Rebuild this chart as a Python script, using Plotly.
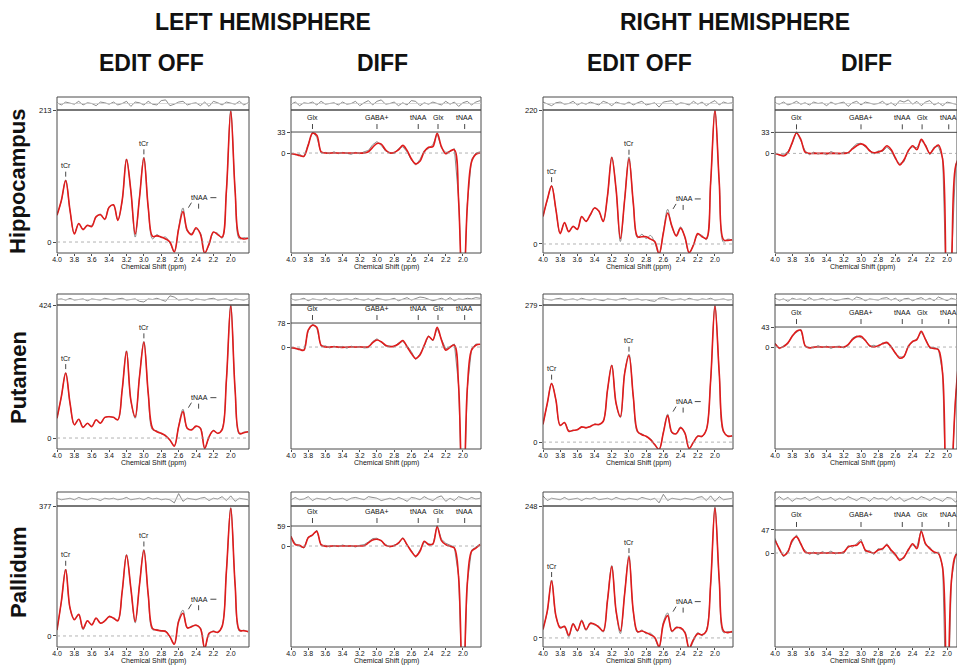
import plotly.graph_objects as go

W, H = 957, 666

# ---------------- data ----------------
PPM = [4.00, 3.95, 3.90, 3.85, 3.80, 3.75, 3.70, 3.65, 3.60, 3.55, 3.50, 3.45, 3.40, 3.35, 3.30,
       3.25, 3.20, 3.15, 3.10, 3.05, 3.00, 2.95, 2.90, 2.85, 2.80, 2.75, 2.70, 2.65, 2.60, 2.55,
       2.50, 2.45, 2.40, 2.35, 2.30, 2.25, 2.20, 2.15, 2.10, 2.05, 2.00, 1.95, 1.90, 1.85, 1.80]

X_TICKS = [4.0, 3.8, 3.6, 3.4, 3.2, 3.0, 2.8, 2.6, 2.4, 2.2, 2.0]
X_TICK_LABELS = ["4.0", "3.8", "3.6", "3.4", "3.2", "3.0", "2.8", "2.6", "2.4", "2.2", "2.0"]
X_TITLE = "Chemical Shift (ppm)"

HEMISPHERES = ["LEFT HEMISPHERE", "RIGHT HEMISPHERE"]
CONDITIONS = ["EDIT OFF", "DIFF", "EDIT OFF", "DIFF"]
REGIONS = ["Hippocampus", "Putamen", "Pallidum"]

OFF_PEAK_LABELS = ["tCr", "tCr"]
OFF_PEAK_PPM = [3.90, 3.00]
DIFF_PEAK_LABELS = ["Glx", "GABA+", "tNAA", "Glx", "tNAA"]
DIFF_PEAK_PPM = [3.75, 3.00, 2.52, 2.29, 1.98]

# y-axis max labels, row-major (LH off, LH diff, RH off, RH diff)
Y_MAX = [213, 33, 220, 33,
         424, 78, 279, 43,
         377, 59, 248, 47]

# ---- Hippocampus ----
LH_HIPPO_OFF_FIT = [43, 67, 99, 51, 13, 30, 20, 27, 25, 41, 44, 37, 56, 60, 35, 67, 133, 83, 13, 72, 135, 56, 9, 10, 8,
                    5, 0, -16, 21, 49, 19, 12, 23, 13, -18, -3, 16, 12, 8, 83, 211, 83, 8, 5, 6]
LH_HIPPO_OFF_DATA = [44, 66, 100, 50, 14, 29, 21, 26, 27, 40, 45, 36, 57, 59, 36, 66, 134, 82, 8, 73, 137, 55, 5, 12, 7,
                     8, -2, -15, 23, 55, 17, 14, 21, 15, -17, -5, 15, 14, 6, 82, 212, 84, 5, 7, 6]
LH_HIPPO_OFF_RES = [1, -2, 2, 0, -1, 3, -2, 1, 0, -3, 2, 1, -1, 2, -2, 0, 3, -4, 2, 1, -2, 3, -1, -2, 4,
                    5, -3, -1, 2, 3, -2, 0, 1, -3, 2, -4, 3, 1, -2, 2, 0, -1, 3, -2, 1]

LH_HIPPO_DIFF_FIT = [-1, -2, -4, -5, 12, 31, 28, 2, 0, 0, 0, 0, 0, 0, 0, 0, 0, 0, 2, 9, 15, 14, 5, 0, 1,
                     5, 12, 4, -9, -17, -13, 2, 9, 10, 31, 10, -1, 3, 5, -76, -260, -86, -14, -2, 0]
LH_HIPPO_DIFF_DATA = [0, -3, -2, -6, 14, 33, 25, 0, 1, -1, 2, -1, 1, 0, -2, 1, -1, 2, 4, 13, 18, 12, 3, 1, -1,
                      7, 10, 2, -11, -19, -10, 4, 7, 13, 30, 8, 1, 2, 7, -72, -255, -80, -10, 0, 2]
LH_HIPPO_DIFF_RES = [-1, 2, -3, 1, 0, 2, -2, 3, -1, 0, 1, -2, 2, -1, 0, 3, -3, 1, 4, -2, 3, 5, -1, 0, 2,
                     -3, 1, -2, 4, 3, -3, 1, -1, 2, 0, -2, 3, -1, 2, -4, 1, 3, -2, 2, 4]

RH_HIPPO_OFF_FIT = [45, 73, 95, 57, 17, 35, 20, 29, 24, 45, 37, 48, 59, 54, 37, 79, 142, 90, 9, 73, 140, 68, 12, 12, 12,
                    8, 4, -16, 18, 51, 29, 13, 26, 12, -14, -2, 17, 12, 9, 101, 220, 101, 7, 6, 7]
RH_HIPPO_OFF_DATA = [46, 72, 96, 56, 18, 34, 21, 28, 25, 44, 38, 47, 60, 53, 38, 78, 143, 89, 4, 74, 143, 66, 10, 16, 9,
                     14, 2, -17, 20, 57, 27, 15, 28, 10, -15, -1, 15, 14, 7, 100, 219, 103, 3, 8, 6]
RH_HIPPO_OFF_RES = [2, 0, -3, 1, 2, -1, 0, 3, -2, 1, -1, 2, 0, -2, 3, 1, -3, 2, 0, -1, 2, -2, 1, 3, -2,
                    0, 1, -5, 2, 3, 4, -2, 1, 0, -2, 3, -1, 2, -3, 1, 4, -2, 2, 0, 1]

RH_HIPPO_DIFF_FIT = [0, -2, -4, 1, 17, 32, 22, 2, 0, 0, 0, 0, 0, 0, 0, 0, 0, 1, 7, 12, 15, 12, 4, 1, 2,
                     5, 12, 6, -7, -18, -10, 4, 12, 6, 22, 12, 0, 8, 13, -10, -260, -180, -20, -5, 0]
RH_HIPPO_DIFF_DATA = [1, -3, -2, 3, 15, 34, 20, 4, -2, 2, -1, 1, -2, 3, 0, -1, 2, 0, 9, 15, 16, 10, 6, -1, 4,
                      3, 10, 4, -9, -16, -13, 6, 10, 9, 20, 14, -2, 10, 11, -8, -255, -175, -18, -3, 2]
RH_HIPPO_DIFF_RES = [1, -1, 2, -2, 0, 3, -1, 1, -2, 2, 0, 1, -3, 2, -1, 0, 2, -4, 1, 3, -2, 2, 1, -1, 0,
                     3, -2, 1, -3, 4, 2, 5, -1, 3, -3, 2, 4, -2, 1, -3, 2, 0, -1, 2, 1]

# ---- Putamen ----
LH_PUT_OFF_FIT = [63, 132, 207, 111, 42, 60, 34, 47, 36, 58, 47, 66, 68, 66, 58, 153, 276, 121, 68, 196, 305, 143, 31, 20, 15,
                  7, -6, -26, 36, 84, 31, 26, 38, 31, -33, 4, 23, 15, 26, 185, 422, 153, 15, 17, 20]
LH_PUT_OFF_DATA = [64, 131, 208, 110, 43, 59, 36, 46, 38, 57, 48, 65, 69, 65, 59, 152, 278, 120, 63, 198, 308, 141, 26, 23, 13,
                   9, -8, -24, 38, 92, 29, 28, 36, 33, -31, 2, 25, 14, 30, 184, 424, 155, 12, 19, 19]
LH_PUT_OFF_RES = [0, 1, -1, 2, -1, 0, 1, -2, 1, 0, -1, 2, 0, -1, 1, 2, -1, 0, 1, -3, -4, 1, 0, 2, -1,
                  -3, 6, 4, -1, 0, 1, -2, 1, 0, -1, 1, 2, -1, 0, 1, -2, 1, 0, -1, 1]

LH_PUT_DIFF_FIT = [-2, -4, -8, -10, 55, 71, 64, 6, 0, 0, 1, 0, -1, 0, 0, 0, 0, 0, 1, 14, 23, 17, 6, 1, 3,
                   10, 21, 1, -21, -37, -26, 6, 34, 23, 64, 23, -10, -1, 6, -129, -620, -140, -10, 6, 9]
LH_PUT_DIFF_DATA = [-1, -6, -5, -12, 52, 74, 62, 2, 4, -3, 3, -2, 2, -4, 3, -1, 2, -3, -2, 18, 27, 15, 3, 4, 0,
                    14, 18, 5, -15, -41, -22, 3, 37, 20, 60, 26, -6, 2, 10, -125, -615, -135, -6, 10, 8]
LH_PUT_DIFF_RES = [1, -1, 0, 2, -2, 1, 0, -1, 2, -1, 1, -2, 0, 1, -1, 2, 0, -1, 1, -2, 2, 1, -1, 0, 2,
                   -2, 1, 3, -1, 2, 4, 3, 1, -2, 0, 2, -1, 3, -2, 1, 0, 2, 1, 3, 2]

RH_PUT_OFF_FIT = [36, 79, 119, 86, 34, 40, 22, 24, 25, 31, 29, 32, 36, 36, 42, 106, 156, 79, 52, 140, 176, 93, 22, 15, 12,
                  5, -5, -15, 19, 54, 20, 17, 29, 19, -13, 0, 12, 12, 25, 126, 277, 140, 22, 12, 13]
RH_PUT_OFF_DATA = [37, 78, 120, 85, 35, 39, 24, 23, 26, 30, 30, 31, 37, 35, 43, 105, 157, 78, 50, 142, 179, 92, 20, 17, 11,
                   7, -6, -14, 21, 57, 18, 18, 31, 17, -12, -1, 13, 11, 26, 125, 278, 141, 20, 13, 12]
RH_PUT_OFF_RES = [1, 0, -1, 1, 2, -1, 0, 1, -1, 2, 0, -1, 1, 0, -2, 1, 0, -1, 1, 2, -1, 0, 1, -1, 0,
                  -2, -3, 2, 3, 1, -1, 0, 1, -1, 2, 0, -1, 1, 0, 2, -1, 0, 1, -1, 0]

RH_PUT_DIFF_FIT = [7, -2, 1, 9, 23, 34, 36, 3, -2, 0, 0, 0, 0, 0, 0, 0, 0, 5, 16, 22, 23, 14, 3, 0, 3,
                   7, 10, 0, -13, -24, -20, 1, 12, 16, 34, 16, 0, -3, -6, -60, -420, -300, -110, -20, 0]
RH_PUT_DIFF_DATA = [9, -4, 3, 7, 25, 31, 38, 1, 0, -2, 3, -1, 2, -3, 1, 2, -2, 3, 19, 24, 20, 16, 1, 4, 0,
                    9, 8, 3, -15, -21, -22, 4, 10, 18, 32, 18, -3, -1, -4, -56, -415, -295, -105, -16, 2]
RH_PUT_DIFF_RES = [2, -1, 1, -3, 2, 0, 1, -2, 3, -1, 0, 2, -1, 1, -2, 0, 1, 2, -1, 4, 2, -2, 1, 0, -1,
                   2, 3, -1, 2, -3, 1, 2, -2, 1, 3, -1, 2, -2, 4, 1, -2, 2, 0, 3, -1]

# ---- Pallidum ----
LH_PAL_OFF_FIT = [17, 100, 192, 81, 47, 63, 22, 44, 32, 52, 37, 44, 56, 52, 44, 129, 234, 139, 42, 149, 248, 120, 22, 17, 15,
                  13, -2, -24, 42, 66, 24, 27, 32, 22, -36, 8, 13, 11, 27, 188, 370, 149, 17, 15, 13]
LH_PAL_OFF_DATA = [20, 98, 194, 80, 49, 60, 18, 42, 34, 50, 39, 42, 58, 50, 46, 127, 236, 137, 38, 151, 251, 118, 18, 19, 13,
                   15, -4, -22, 46, 75, 22, 29, 30, 24, -34, 4, 15, 9, 30, 186, 372, 151, 14, 17, 11]
LH_PAL_OFF_RES = [1, -1, 0, 1, -1, 2, 0, -1, 1, 0, -2, 1, 0, 1, -1, 0, 2, -1, 0, 1, -1, 2, 0, 1, -1,
                  0, -1, -5, 7, -3, 1, 0, -1, 1, 2, -2, 1, 0, 3, -2, 4, -3, 1, 0, -1]

LH_PAL_DIFF_FIT = [29, 4, 2, -4, 24, 33, 43, 4, -1, 0, 0, 0, 0, 0, 0, 0, 0, 1, 9, 18, 20, 16, 2, -1, 1,
                   9, 22, 4, -16, -30, -16, 14, 4, 6, 57, 16, 4, -1, -6, -94, -500, -114, -16, -6, 4]
LH_PAL_DIFF_DATA = [27, 7, -1, -6, 27, 30, 47, 1, 2, -3, 2, -2, 3, -1, 1, -3, 2, 4, 12, 22, 23, 13, 5, -3, 3,
                    6, 25, 2, -13, -34, -13, 11, 7, 3, 60, 20, 8, 2, -3, -90, -495, -110, -12, -3, 6]
LH_PAL_DIFF_RES = [-1, 2, -1, 0, 3, -2, 1, 0, -1, 2, -1, 0, 1, -2, 1, 2, 0, -1, 3, 2, 1, -2, 0, 1, -1,
                   2, 0, -3, 2, 1, -1, 3, 0, -2, 2, 4, -3, 1, -2, 3, 1, -1, 2, 0, 1]

RH_PAL_OFF_FIT = [16, 51, 107, 42, 19, 22, 5, 26, 14, 32, 16, 27, 26, 20, 13, 70, 134, 51, 13, 83, 152, 51, 12, 13, 10,
                  6, 1, -16, 26, 42, 13, 19, 19, 10, -19, -3, 8, 6, 13, 102, 244, 109, 13, 10, 12]
RH_PAL_OFF_DATA = [18, 49, 109, 40, 21, 20, 2, 28, 12, 34, 14, 29, 24, 22, 11, 72, 136, 49, 8, 85, 155, 49, 10, 15, 8,
                   9, -1, -18, 30, 47, 11, 21, 17, 12, -21, -6, 10, 4, 15, 100, 246, 107, 10, 12, 10]
RH_PAL_OFF_RES = [4, -2, 1, 0, -1, 2, -1, 0, 1, -2, 1, 0, 2, -1, 0, 1, -1, 2, 0, -1, 1, 0, -1, 2, 0,
                  -1, 1, -5, 6, -2, 1, 0, -1, 1, 0, -1, 2, 3, -2, 4, -3, 3, -1, 0, 1]

RH_PAL_DIFF_FIT = [26, 9, -5, 2, 26, 33, 19, 2, 0, 0, 0, 0, 0, 0, 0, 0, 2, 12, 15, 16, 23, 6, 2, 0, 6,
                   9, 16, 6, -3, -15, -8, 6, 19, 9, 44, 19, 9, 2, -1, -32, -400, -60, -5, 0, 0]
RH_PAL_DIFF_DATA = [30, 6, -8, 5, 22, 37, 16, 5, -3, 2, -4, 3, -1, 4, -2, 1, -1, 15, 12, 19, 28, 3, 5, -3, 9,
                    6, 19, 3, -6, -12, -11, 9, 16, 12, 48, 16, 12, -1, 2, -28, -395, -56, -2, 3, -3]
RH_PAL_DIFF_RES = [-2, 3, -1, 2, -3, 1, 0, 2, -2, 1, 3, -1, 0, 2, -2, 1, -1, 3, 0, -2, 2, 1, -3, 2, 0,
                   1, -2, 3, -1, 2, -3, 0, 2, -1, 3, 1, -2, 2, 0, -3, 2, 1, -4, 2, 1]

# ---------------- layout geometry (pixels) ----------------
COL_PX = [(57, 249), (291, 481), (543, 733), (775, 957)]
ROW_PX = [(97, 110, 253), (294, 305, 449), (492, 506, 647)]   # top, residual bottom, main bottom
Y_LOW = [[-17.7, -157, -14.8, -156],
         [-35, -331, -14, -219],
         [-32, -298, -17, -192]]
Y_HIGH_DIFF = [[None, 67.6, None, 68],
               [None, 136.5, None, 90.3],
               [None, 118, None, 96]]

PANELS = [
    [(LH_HIPPO_OFF_FIT, LH_HIPPO_OFF_DATA, LH_HIPPO_OFF_RES), (LH_HIPPO_DIFF_FIT, LH_HIPPO_DIFF_DATA, LH_HIPPO_DIFF_RES),
     (RH_HIPPO_OFF_FIT, RH_HIPPO_OFF_DATA, RH_HIPPO_OFF_RES), (RH_HIPPO_DIFF_FIT, RH_HIPPO_DIFF_DATA, RH_HIPPO_DIFF_RES)],
    [(LH_PUT_OFF_FIT, LH_PUT_OFF_DATA, LH_PUT_OFF_RES), (LH_PUT_DIFF_FIT, LH_PUT_DIFF_DATA, LH_PUT_DIFF_RES),
     (RH_PUT_OFF_FIT, RH_PUT_OFF_DATA, RH_PUT_OFF_RES), (RH_PUT_DIFF_FIT, RH_PUT_DIFF_DATA, RH_PUT_DIFF_RES)],
    [(LH_PAL_OFF_FIT, LH_PAL_OFF_DATA, LH_PAL_OFF_RES), (LH_PAL_DIFF_FIT, LH_PAL_DIFF_DATA, LH_PAL_DIFF_RES),
     (RH_PAL_OFF_FIT, RH_PAL_OFF_DATA, RH_PAL_OFF_RES), (RH_PAL_DIFF_FIT, RH_PAL_DIFF_DATA, RH_PAL_DIFF_RES)],
]

FONT = "Liberation Sans, Arial, sans-serif"
RED = "#e01b1b"
GRAY = "#7d7d7d"
RES_GRAY = "#6e6e6e"
FRAME = "#4a4a4a"
MARK = "#333333"


def px_x(p):
    return p / W


def px_y(p):
    return 1 - p / H


def ax_id(letter, n):
    return letter if n == 1 else f"{letter}{n}"


def tick_mark(xa, ya, x, yv, y0, y1, dx0=0, dx1=0):
    """short marker line positioned in pixels relative to a data point"""
    return dict(type="line", xref=xa, yref=ya, xsizemode="pixel", ysizemode="pixel",
                xanchor=x, yanchor=yv, x0=dx0, x1=dx1, y0=y0, y1=y1,
                line=dict(color=MARK, width=0.9))


def label(xa, ya, x, yv, text, yshift):
    return dict(x=x, y=yv, xref=xa, yref=ya, text=text, showarrow=False,
                xanchor="center", yanchor="middle", yshift=yshift,
                font=dict(size=7, color="#111"))


fig = go.Figure()
layout = dict(width=W, height=H, margin=dict(l=0, r=0, t=0, b=0),
              paper_bgcolor="white", plot_bgcolor="white", showlegend=False,
              font=dict(family=FONT, color="#111"))
shapes = []
annotations = []

for r in range(3):
    top, rb, bot = ROW_PX[r]
    for c in range(4):
        k = r * 4 + c
        xa = ax_id("x", k + 1)
        ya = ax_id("y", k + 1)
        yr = ax_id("y", k + 13)
        xkey = "xaxis" if k == 0 else f"xaxis{k + 1}"
        ykey = "yaxis" if k == 0 else f"yaxis{k + 1}"
        rkey = f"yaxis{k + 13}"
        fit, dat, res = PANELS[r][c]
        vmax = Y_MAX[k]
        is_diff = (c % 2 == 1)
        x0p, x1p = COL_PX[c]
        xrange = [4.0, 1.884] if c == 3 else [4.0, 1.79]
        ylo = Y_LOW[r][c]
        yhi = Y_HIGH_DIFF[r][c] if is_diff else vmax

        # traces
        fig.add_trace(go.Scatter(x=PPM, y=res, mode="lines", xaxis=xa, yaxis=yr,
                                 line=dict(color=RES_GRAY, width=0.8), hoverinfo="skip"))
        fig.add_trace(go.Scatter(x=PPM, y=dat, mode="lines", xaxis=xa, yaxis=ya,
                                 line=dict(color=GRAY, width=0.9, shape="linear" if is_diff else "spline"),
                                 hoverinfo="skip"))
        fig.add_trace(go.Scatter(x=PPM, y=fit, mode="lines", xaxis=xa, yaxis=ya,
                                 line=dict(color=RED, width=1.6, shape="spline"), hoverinfo="skip"))

        # axes
        layout[xkey] = dict(
            domain=[px_x(x0p), px_x(x1p)], anchor=ya, range=xrange,
            tickvals=X_TICKS, ticktext=X_TICK_LABELS, ticks="outside", ticklen=2,
            ticklabelstandoff=-2,
            tickcolor=FRAME, tickfont=dict(size=7, color="#111"),
            showgrid=False, zeroline=False, showline=False, automargin=False)
        layout[ykey] = dict(
            domain=[px_y(bot), px_y(rb)], anchor=xa, range=[ylo, yhi],
            tickvals=[0, vmax], ticktext=["0", str(vmax)], ticks="outside", ticklen=3,
            tickcolor=FRAME, tickfont=dict(size=7.5, color="#111"),
            showgrid=False, zeroline=False, showline=False, automargin=False)
        layout[rkey] = dict(
            domain=[px_y(rb), px_y(top)], anchor=xa, range=[-9, 9], visible=False)

        # x-axis title under each panel
        annotations.append(dict(x=px_x((x0p + min(x1p, 950)) / 2 if c == 3 else (x0p + x1p) / 2),
                                y=px_y(bot + 14), xref="paper", yref="paper", text=X_TITLE,
                                showarrow=False, xanchor="center", yanchor="middle",
                                font=dict(size=7, color="#111")))

        # frames
        shapes.append(dict(type="rect", xref="paper", yref="paper",
                           x0=px_x(x0p), x1=px_x(x1p), y0=px_y(bot), y1=px_y(rb),
                           line=dict(color=FRAME, width=1)))
        shapes.append(dict(type="rect", xref="paper", yref="paper",
                           x0=px_x(x0p), x1=px_x(x1p), y0=px_y(rb), y1=px_y(top),
                           line=dict(color=FRAME, width=1)))
        shapes.append(dict(type="line", xref=f"{xa} domain", yref=yr, x0=0, x1=1, y0=0, y1=0,
                           line=dict(color="#c8c8c8", width=0.7)))
        shapes.append(dict(type="line", xref=f"{xa} domain", yref=ya, x0=0, x1=1, y0=0, y1=0,
                           line=dict(color="#a0a0a0", width=0.8, dash="dot")))

        if is_diff:
            shapes.append(dict(type="line", xref=f"{xa} domain", yref=ya, x0=0, x1=1,
                               y0=vmax, y1=vmax, line=dict(color=FRAME, width=1)))
            for lab, pp in zip(DIFF_PEAK_LABELS, DIFF_PEAK_PPM):
                annotations.append(label(xa, ya, pp, vmax, lab, 15))
                shapes.append(tick_mark(xa, ya, pp, vmax, 3, 8))
        else:
            for lab, pp in zip(OFF_PEAK_LABELS, OFF_PEAK_PPM):
                yv = fit[PPM.index(pp)]
                annotations.append(label(xa, ya, pp, yv, lab, 15))
                shapes.append(tick_mark(xa, ya, pp, yv, 4, 9))
            yv = fit[PPM.index(2.55)]
            annotations.append(label(xa, ya, 2.36, yv, "tNAA", 14))
            shapes.append(tick_mark(xa, ya, 2.47, yv, 4, 9, -1.5, 1.5))
            shapes.append(tick_mark(xa, ya, 2.37, yv, 3, 8))
            shapes.append(tick_mark(xa, ya, 2.20, yv, 14, 14, -3, 3))

# headings
for txt, cx in zip(HEMISPHERES, [263, 735]):
    annotations.append(dict(x=px_x(cx), y=px_y(22), xref="paper", yref="paper", text=f"<b>{txt}</b>",
                            showarrow=False, xanchor="center", yanchor="middle",
                            font=dict(size=23, color="#111")))
for txt, cx in zip(CONDITIONS, [151, 382, 639, 866]):
    annotations.append(dict(x=px_x(cx), y=px_y(63), xref="paper", yref="paper", text=f"<b>{txt}</b>",
                            showarrow=False, xanchor="center", yanchor="middle",
                            font=dict(size=23, color="#111")))
for txt, cy in zip(REGIONS, [182, 378, 572]):
    annotations.append(dict(x=px_x(18), y=px_y(cy), xref="paper", yref="paper", text=f"<b>{txt}</b>",
                            showarrow=False, textangle=-90, xanchor="center", yanchor="middle",
                            font=dict(size=22, color="#111")))

layout["shapes"] = shapes
layout["annotations"] = annotations
fig.update_layout(**layout)
fig.write_html("out.html", config={"displayModeBar": False},
               post_script="document.body.style.margin='0';document.body.style.padding='0';")
